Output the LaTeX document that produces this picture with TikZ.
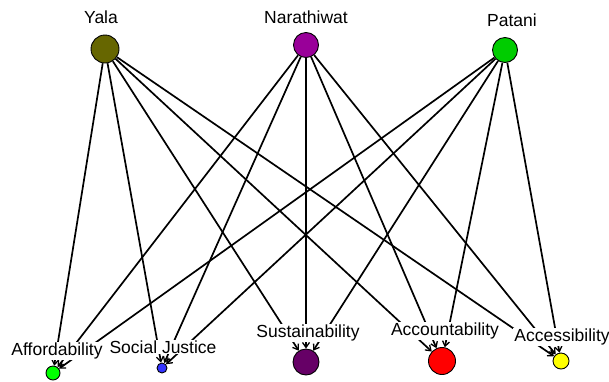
\documentclass[tikz,border=0pt]{standalone}
\usepackage{fontspec}
\setmainfont{Liberation Sans}
\usetikzlibrary{arrows.meta}
\begin{document}
\begin{tikzpicture}[x=1pt,y=-1pt,
  vert/.style={circle,draw=black,line width=0.9pt,inner sep=0pt,minimum size=#1},
  lbl/.style={fill=white,inner sep=1pt,font=\fontsize{17.5}{19}\selectfont},
  link/.style={line width=1.7pt,-{Straight Barb[length=5pt,width=7pt,line width=1.3pt]}}]
\useasboundingbox (0,0) rectangle (609,381);
% provinces
\node[vert=28pt,fill={rgb,255:red,102;green,102;blue,0}] (yala) at (105,49) {};
\node[vert=25pt,fill={rgb,255:red,153;green,0;blue,153}] (nara) at (306,45) {};
\node[vert=25pt,fill={rgb,255:red,0;green,204;blue,0}] (patani) at (505,50) {};
% values
\node[vert=14pt,fill={rgb,255:red,0;green,255;blue,0}] (afford) at (53,373) {};
\node[vert=10pt,fill={rgb,255:red,51;green,51;blue,255}] (social) at (162,368) {};
\node[vert=26pt,fill={rgb,255:red,102;green,0;blue,102}] (sustain) at (306,362) {};
\node[vert=27pt,fill={rgb,255:red,255;green,0;blue,0}] (account) at (442,361) {};
\node[vert=16pt,fill={rgb,255:red,255;green,255;blue,0}] (access) at (561,361) {};
% links
\foreach \s in {yala,nara,patani}
  \foreach \t in {afford,social,sustain,account,access}
    \draw[link] (\s) -- (\t);
% labels
\node[lbl] at (101,17) {Yala};
\node[lbl] at (306,17) {Narathiwat};
\node[lbl] at (512,20) {Patani};
\node[lbl] at (57,351) {Affordability};
\node[lbl] at (163,347) {Social Justice};
\node[lbl] at (308,333) {Sustainability};
\node[lbl] at (445,331) {Accountability};
\node[lbl] at (562,337) {Accessibility};
\end{tikzpicture}
\end{document}
